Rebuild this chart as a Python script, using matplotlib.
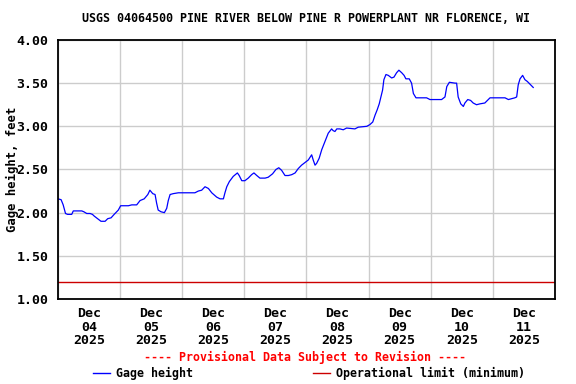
import matplotlib
matplotlib.use("Agg")
import matplotlib.pyplot as plt
from matplotlib.ticker import FixedLocator, FuncFormatter

# hours since Dec 04 2025 00:00, gage height in feet
hours = [0, 1.2, 2.0, 2.9, 3.7, 5.3, 5.9, 7.2, 8.1, 9.2, 10.0, 11.1, 12.4, 13.3,
         14.0, 15.3, 16.6, 18.2, 19.2, 20.5, 21.7, 23.3, 24.2, 25.9, 27.2, 28.5,
         30.4, 31.7, 33.3, 34.7, 35.5, 36.6, 37.5, 38.1, 38.7, 39.8, 41.1, 42.0,
         42.6, 43.3, 44.5, 46.5, 48.4, 52.9, 54.2, 55.5, 56.8, 58.1, 59.4, 61.3,
         62.6, 63.9, 64.5, 65.2, 66.2, 67.7, 69.3, 70.0, 71.0, 72.2, 73.5, 74.8,
         75.7, 76.8, 78.0, 80.0, 81.2, 82.9, 84.2, 85.3, 86.4, 87.7, 89.0, 90.3,
         91.6, 92.8, 94.1, 95.4, 96.7, 98.0, 98.6, 99.3, 99.9, 100.9, 101.9,
         103.1, 104.4, 105.7, 106.3, 107.0, 107.7, 108.9, 110.2, 111.5, 114.7,
         116.0, 119.3, 120.5, 121.6, 122.5, 123.3, 124.1, 125.4, 125.9, 126.7,
         127.6, 128.9, 129.8, 130.8, 131.7, 132.8, 133.7, 134.4, 135.7, 136.6,
         137.3, 138.3, 142.4, 143.7, 146.3, 148.2, 149.5, 150.2, 151.2, 153.4,
         154.0, 154.6, 155.6, 156.6, 157.2, 158.3, 159.4, 160.4, 161.7, 163.0,
         164.9, 166.2, 166.9, 172.7, 174.0, 176.5, 177.2, 177.8, 178.5, 179.5,
         180.4, 181.3, 182.3, 183.6]
gage = [2.16, 2.15, 2.09, 1.99, 1.98, 1.98, 2.02, 2.02, 2.02, 2.02, 2.01, 1.99,
        1.99, 1.98, 1.96, 1.93, 1.90, 1.90, 1.93, 1.94, 1.98, 2.03, 2.08, 2.08,
        2.08, 2.09, 2.09, 2.14, 2.16, 2.21, 2.26, 2.22, 2.21, 2.11, 2.03, 2.01,
        2.00, 2.05, 2.14, 2.21, 2.22, 2.23, 2.23, 2.23, 2.25, 2.26, 2.30, 2.28,
        2.23, 2.18, 2.16, 2.16, 2.23, 2.30, 2.36, 2.42, 2.46, 2.43, 2.37, 2.37,
        2.40, 2.44, 2.46, 2.43, 2.40, 2.40, 2.41, 2.45, 2.50, 2.52, 2.49, 2.43,
        2.43, 2.44, 2.46, 2.51, 2.55, 2.58, 2.61, 2.67, 2.61, 2.55, 2.57, 2.63,
        2.73, 2.82, 2.92, 2.97, 2.95, 2.94, 2.97, 2.97, 2.96, 2.98, 2.97, 2.99,
        3.00, 3.02, 3.05, 3.13, 3.19, 3.26, 3.42, 3.54, 3.60, 3.59, 3.56, 3.57,
        3.62, 3.65, 3.62, 3.59, 3.55, 3.55, 3.50, 3.38, 3.33, 3.33, 3.31, 3.31,
        3.31, 3.34, 3.46, 3.51, 3.50, 3.50, 3.34, 3.26, 3.23, 3.27, 3.31, 3.30,
        3.27, 3.25, 3.26, 3.27, 3.31, 3.33, 3.33, 3.31, 3.33, 3.34, 3.48, 3.55,
        3.59, 3.54, 3.52, 3.49, 3.45]

op_limit = 1.20
days = ["04", "05", "06", "07", "08", "09", "10", "11"]
day_labels = ["Dec\n" + d + "\n2025" for d in days]
yticks = [1.0, 1.5, 2.0, 2.5, 3.0, 3.5, 4.0]

title = "USGS 04064500 PINE RIVER BELOW PINE R POWERPLANT NR FLORENCE, WI"
font = "DejaVu Sans Mono"

fig = plt.figure(figsize=(5.76, 3.84), dpi=100)
ax = fig.add_axes([0.1007, 0.2214, 0.8628, 0.6745])

ax.plot(hours, gage, color="#0000ff", lw=0.9)
ax.axhline(op_limit, color="#cc0000", lw=1.0)

ax.set_xlim(0, 24 * len(days))
ax.set_ylim(1.0, 4.0)

# gridlines at midnight, labels at noon
ax.xaxis.set_major_locator(FixedLocator([24 * i for i in range(len(days) + 1)]))
ax.xaxis.set_minor_locator(FixedLocator([12 + 24 * i for i in range(len(days))]))
ax.xaxis.set_major_formatter(FuncFormatter(lambda v, p: ""))
ax.set_xticklabels(day_labels, minor=True)
ax.set_yticks(yticks)
ax.yaxis.set_major_formatter(FuncFormatter(lambda v, p: "%.2f" % v))
ax.grid(True, which="major", color="#cccccc", lw=1.0)
ax.set_axisbelow(True)
ax.tick_params(which="both", length=0)
ax.tick_params(axis="x", which="minor", pad=6)
ax.tick_params(axis="y", pad=7)
for lab in ax.get_xticklabels(minor=True) + ax.get_yticklabels():
    lab.set_fontfamily(font)
    lab.set_fontweight("bold")
    lab.set_fontsize(9.5)
for lab in ax.get_xticklabels(minor=True):
    lab.set_linespacing(1.05)
for s in ax.spines.values():
    s.set_linewidth(1.3)

ax.set_ylabel("Gage height, feet", family=font, weight="bold", fontsize=8.8, va="center")
ax.yaxis.set_label_coords(-0.092, 0.5)

fig.text(0.531, 0.951, title, ha="center", va="center", family=font,
         weight="bold", fontsize=8.4)
fig.text(0.53, 0.068, "---- Provisional Data Subject to Revision ----", ha="center",
         va="center", family=font, weight="bold", fontsize=8.4, color="red")

# legend drawn by hand to match the USGS layout
fig.add_artist(plt.Line2D([93 / 576, 110 / 576], [1 - 373 / 384] * 2, color="#0000ff", lw=1))
fig.text(116 / 576, 1 - 373 / 384, "Gage height", va="center", family=font,
         weight="bold", fontsize=8.4)
fig.add_artist(plt.Line2D([313 / 576, 330 / 576], [1 - 373 / 384] * 2, color="#cc0000", lw=1))
fig.text(336 / 576, 1 - 373 / 384, "Operational limit (minimum)", va="center",
         family=font, weight="bold", fontsize=8.4)

fig.savefig("out.png", dpi=100)
